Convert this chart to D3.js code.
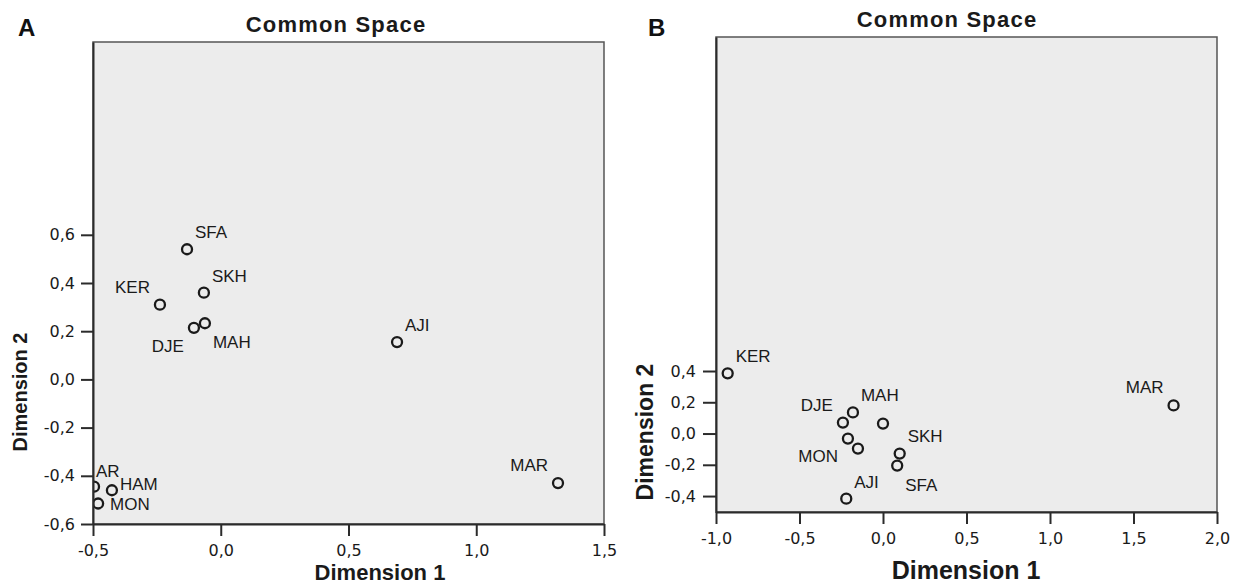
<!DOCTYPE html>
<html>
<head>
<meta charset="utf-8">
<script src="https://cdn.jsdelivr.net/npm/d3@7"></script>
<style>
  body { margin: 0; background: #fff; }
  svg { display: block; }
  .tick text { font-family: "DejaVu Sans", sans-serif; font-size: 16px; fill: #1a1a1a; }
  .tick line, .domain { stroke: #2b2b2b; stroke-width: 2px; }
  .lbl { font-family: "Liberation Sans", Arial, sans-serif; font-size: 17px; fill: #1a1a1a; }
</style>
</head>
<body>
<svg id="chart" width="1238" height="586"></svg>
<script>
// panel A values
const namesA = ["SFA", "KER", "SKH", "DJE", "MAH", "AJI", "MAR", "AR", "HAM", "MON"];
const dim1A = [-0.132, -0.238, -0.066, -0.105, -0.062, 0.69, 1.32, -0.496, -0.426, -0.48];
const dim2A = [0.54, 0.31, 0.36, 0.214, 0.233, 0.155, -0.43, -0.445, -0.46, -0.515];
const sideA = ["ne", "nw", "ne", "sw", "se", "ne", "nw", "n", "e", "e0"];
const xTicksA = [-0.5, 0, 0.5, 1, 1.5];
const yTicksA = [-0.6, -0.4, -0.2, 0, 0.2, 0.4, 0.6];

// panel B values (two points have no label)
const namesB = ["KER", "DJE", "MAH", "", "MON", "", "SKH", "SFA", "AJI", "MAR"];
const dim1B = [-0.93, -0.24, -0.18, 0.0, -0.21, -0.15, 0.1, 0.085, -0.22, 1.74];
const dim2B = [0.385, 0.07, 0.135, 0.064, -0.032, -0.096, -0.128, -0.205, -0.417, 0.18];
const sideB = ["ne", "nw", "ne", "", "sw", "", "ne", "se", "ne", "nw"];
const xTicksB = [-1, -0.5, 0, 0.5, 1, 1.5, 2];
const yTicksB = [-0.4, -0.2, 0, 0.2, 0.4];

const fmt = d3.formatLocale({
  decimal: ",", thousands: ".", grouping: [3], currency: ["", ""], minus: "-"
}).format(".1f");

// label offset from the circle centre for each side code
const offsets = {
  ne: [8, -17, "start"],
  nw: [-10, -18, "end"],
  se: [8, 19, "start"],
  sw: [-10, 18, "end"],
  e: [8, -6, "start"],
  e0: [12, 1, "start"],
  n: [2, -16, "start"],
};

const svg = d3.select("#chart");

function drawPanel(p) {
  const x = d3.scaleLinear().domain(p.xDomain).range([p.left, p.right]);
  const y = d3.scaleLinear().domain(p.yDomain).range([p.bottom, p.top]);
  const g = svg.append("g");

  g.append("rect")
    .attr("x", p.left).attr("y", p.top)
    .attr("width", p.right - p.left).attr("height", p.bottom - p.top)
    .attr("fill", "#ececec")
    .attr("stroke", "#555")
    .attr("stroke-width", 1.5);

  g.append("clipPath").attr("id", "clip" + p.id)
    .append("rect")
    .attr("x", p.left).attr("y", p.top)
    .attr("width", p.right - p.left).attr("height", p.bottom - p.top);

  const pts = p.names.map((n, i) => ({ name: n, d1: p.dim1[i], d2: p.dim2[i], side: p.side[i] }));

  g.append("g").attr("clip-path", `url(#clip${p.id})`)
    .selectAll("circle")
    .data(pts)
    .join("circle")
    .attr("cx", (d) => x(d.d1))
    .attr("cy", (d) => y(d.d2))
    .attr("r", 5)
    .attr("fill", "none")
    .attr("stroke", "#1a1a1a")
    .attr("stroke-width", 2.3);

  g.append("g")
    .selectAll("text")
    .data(pts.filter((d) => d.name))
    .join("text")
    .attr("class", "lbl")
    .attr("x", (d) => x(d.d1) + offsets[d.side][0])
    .attr("y", (d) => y(d.d2) + offsets[d.side][1])
    .attr("dy", "0.35em")
    .attr("text-anchor", (d) => offsets[d.side][2])
    .text((d) => d.name);

  g.append("g")
    .attr("transform", `translate(0,${p.bottom})`)
    .call(d3.axisBottom(x).tickValues(p.xTicks).tickFormat(fmt)
      .tickSize(12).tickSizeOuter(0).tickPadding(9));

  g.append("g")
    .attr("transform", `translate(${p.left},0)`)
    .call(d3.axisLeft(y).tickValues(p.yTicks).tickFormat(fmt)
      .tickSize(p.yTick).tickSizeOuter(0).tickPadding(p.yPad));

  g.selectAll(".tick text").attr("font-family", null).attr("font-size", null);

  // panel letter and title
  g.append("text")
    .attr("x", p.letterX).attr("y", 36)
    .style("font", "bold 24px 'Liberation Sans', Arial, sans-serif")
    .attr("fill", "#111")
    .text(p.id);

  g.append("text")
    .attr("x", p.titleX).attr("y", p.titleY)
    .attr("text-anchor", "middle")
    .style("font", "bold 22px 'Liberation Sans', Arial, sans-serif")
    .style("letter-spacing", "1.2px")
    .attr("fill", "#1a1a1a")
    .text("Common Space");

  g.append("text")
    .attr("x", p.xTitleX).attr("y", p.xTitleY)
    .attr("text-anchor", "middle")
    .style("font", `bold ${p.xTitleSize}px 'Liberation Sans', Arial, sans-serif`)
    .attr("fill", "#1a1a1a")
    .text("Dimension 1");

  g.append("text")
    .attr("transform", `translate(${p.yTitleX},${p.yTitleY}) rotate(-90)`)
    .attr("text-anchor", "middle")
    .style("font", `bold ${p.yTitleSize}px 'Liberation Sans', Arial, sans-serif`)
    .attr("fill", "#1a1a1a")
    .text("Dimension 2");
}

drawPanel({
  id: "A", names: namesA, dim1: dim1A, dim2: dim2A, side: sideA,
  xTicks: xTicksA, yTicks: yTicksA,
  xDomain: [-0.5, 1.5], yDomain: [-0.6, 1.4],
  left: 93, right: 604, top: 42, bottom: 524,
  yTick: 12, yPad: 6,
  letterX: 18, titleX: 336, titleY: 32,
  xTitleX: 380, xTitleY: 580, xTitleSize: 22,
  yTitleX: 27, yTitleY: 392, yTitleSize: 20,
});

drawPanel({
  id: "B", names: namesB, dim1: dim1B, dim2: dim2B, side: sideB,
  xTicks: xTicksB, yTicks: yTicksB,
  xDomain: [-1, 2], yDomain: [-0.502, 2.537],
  left: 716, right: 1217, top: 37, bottom: 512,
  yTick: 13, yPad: 7,
  letterX: 648, titleX: 947, titleY: 27,
  xTitleX: 966, xTitleY: 579, xTitleSize: 25,
  yTitleX: 653, yTitleY: 432, yTitleSize: 23,
});
</script>
</body>
</html>
